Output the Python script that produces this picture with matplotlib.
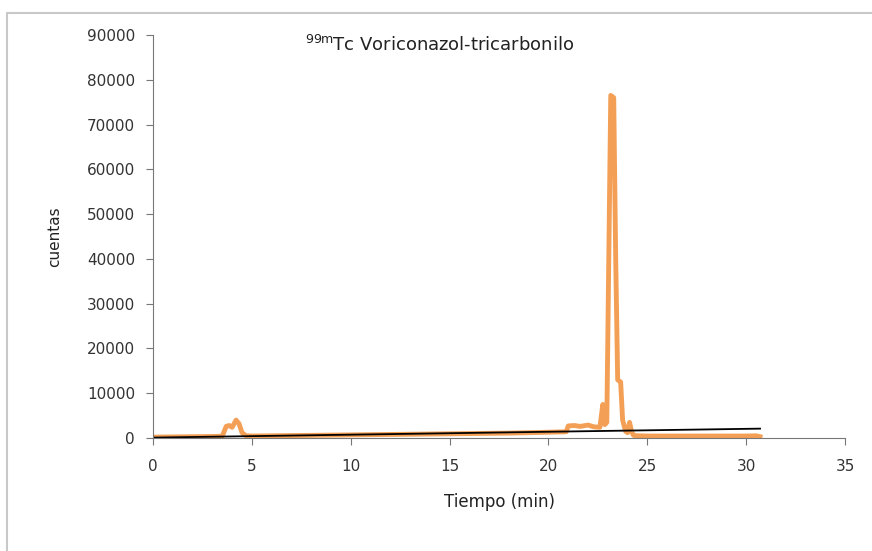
import matplotlib.pyplot as plt
from matplotlib.patches import Rectangle

# chromatogram trace (orange)
tiempo = [0, 1, 2, 3, 3.5, 3.7, 3.85, 4.0, 4.2, 4.35, 4.5, 4.7, 5, 6, 8, 10, 12, 14, 16,
          18, 20, 20.9, 21.0, 21.3, 21.6, 22.0, 22.3, 22.6, 22.75, 22.85, 22.95, 23.05,
          23.15, 23.3, 23.4, 23.5, 23.65, 23.75, 23.9, 24.0, 24.1, 24.2, 24.3, 24.5, 25, 26,
          28, 30, 30.5, 30.7]
cuentas = [200, 250, 300, 350, 400, 2600, 2800, 2400, 4000, 3200, 1200, 500, 450, 500, 600,
           700, 800, 900, 1000, 1100, 1300, 1400, 2700, 2800, 2600, 2900, 2500, 2400, 7500,
           3000, 3500, 40000, 76500, 76000, 40000, 13000, 12500, 4000, 1500, 1200, 3500, 1500,
           600, 500, 450, 450, 450, 450, 500, 300]

# black reference line
linea_t = [0, 30.7]
linea_c = [100, 2100]

fig = plt.figure(figsize=(8.72, 5.51), dpi=100)
fig.patches.append(Rectangle((7 / 872, -0.1), 1.0, 1 - 13 / 551 + 0.1, transform=fig.transFigure,
                             fill=False, edgecolor='#c8c8c8', linewidth=1.5))
ax = fig.add_axes([0.1755, 0.205, 0.7936, 0.7315])

ax.plot(tiempo, cuentas, color='#F39A4C', linewidth=3.5, alpha=0.95)
ax.plot(linea_t, linea_c, color='black', linewidth=1.3)

ax.set_xlim(0, 35)
ax.set_ylim(0, 90000)
ax.set_xticks(range(0, 36, 5))
ax.set_yticks(range(0, 90001, 10000))
for s in ['top', 'right']:
    ax.spines[s].set_visible(False)
for s in ['left', 'bottom']:
    ax.spines[s].set_color('#777777')
ax.tick_params(colors='#777777', labelcolor='#333333', labelsize=11, length=5, direction='out')
ax.tick_params(axis='y', pad=8)
ax.tick_params(axis='x', pad=10)

ax.set_xlabel('Tiempo (min)', fontsize=12, color='#222222', labelpad=14)
ax.set_ylabel('cuentas', fontsize=11, color='#222222', labelpad=18)

fig.text(440 / 872, 1 - 45 / 551, r'$^{\mathregular{99m}}$Tc Voriconazol-tricarbonilo',
         ha='center', va='center', fontsize=13, color='#222222')

fig.savefig('out.png', dpi=100)
